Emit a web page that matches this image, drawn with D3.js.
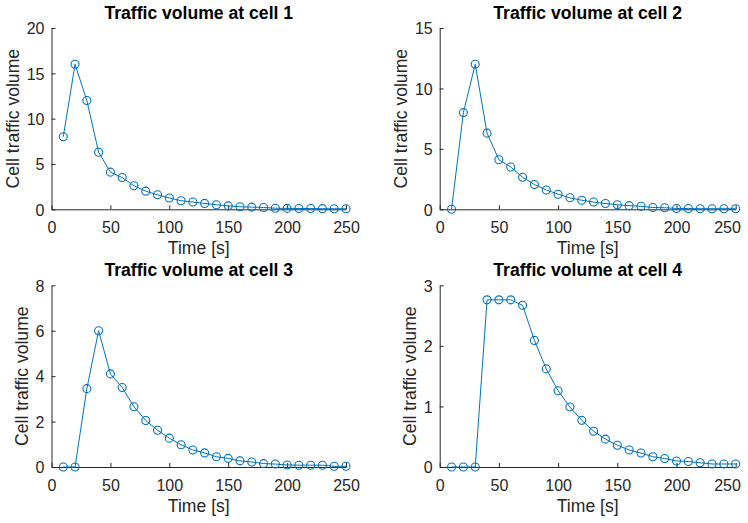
<!DOCTYPE html>
<html>
<head>
<meta charset="utf-8">
<script src="https://cdn.jsdelivr.net/npm/d3@7"></script>
<style>
  html, body { margin: 0; padding: 0; background: #fff; }
  svg { display: block; font-family: "Liberation Sans", Arial, Helvetica, sans-serif; }
</style>
</head>
<body>
<svg id="chart" width="748" height="523"></svg>
<script>
// Sample times (seconds)
const times = [10, 20, 30, 40, 50, 60, 70, 80, 90, 100, 110, 120, 130, 140, 150,
               160, 170, 180, 190, 200, 210, 220, 230, 240, 250];

// Traffic volume per cell
const cell1 = [8, 16, 12, 6.3, 4.1, 3.5, 2.6, 2.0, 1.6, 1.25, 0.95, 0.8, 0.65, 0.5, 0.38,
               0.28, 0.24, 0.2, 0.12, 0.1, 0.09, 0.08, 0.07, 0.06, 0.06];
const cell2 = [0, 8, 12, 6.3, 4.1, 3.5, 2.65, 2.05, 1.6, 1.25, 0.95, 0.75, 0.6, 0.48, 0.38,
               0.3, 0.25, 0.15, 0.13, 0.07, 0.06, 0.05, 0.05, 0.05, 0.05];
const cell3 = [0, 0, 3.45, 6, 4.1, 3.5, 2.65, 2.05, 1.62, 1.27, 0.98, 0.75, 0.62, 0.45, 0.38,
               0.27, 0.22, 0.15, 0.13, 0.09, 0.08, 0.08, 0.08, 0.03, 0.03];
const cell4 = [0, 0, 0, 2.76, 2.76, 2.76, 2.67, 2.09, 1.62, 1.26, 0.99, 0.77, 0.59, 0.46, 0.36,
               0.28, 0.23, 0.17, 0.14, 0.1, 0.09, 0.07, 0.05, 0.05, 0.05];

const titles = ["Traffic volume at cell 1", "Traffic volume at cell 2",
                "Traffic volume at cell 3", "Traffic volume at cell 4"];
const series = [cell1, cell2, cell3, cell4];
const yMax = [20, 15, 8, 3];
const yTicks = [[0, 5, 10, 15, 20], [0, 5, 10, 15], [0, 2, 4, 6, 8], [0, 1, 2, 3]];
const xTicks = [0, 50, 100, 150, 200, 250];
const xLabel = "Time [s]";
const yLabel = "Cell traffic volume";

// Plot boxes for the 2x2 grid: [left, right, top, bottom]
const boxes = [
  [51.5, 346, 28, 209.3],
  [439.7, 735.7, 28, 209.3],
  [51.5, 346, 285.3, 467],
  [439.7, 735.7, 285.3, 467]
];
const yLabelOffset = [33, 33, 24, 23.5];

const axisColor = "#262626";
const lineColor = "#0072BD";
const svg = d3.select("#chart");
const W = 748;

series.forEach((vals, i) => {
  const [l, r, t, b] = boxes[i];
  const x = d3.scaleLinear().domain([0, 250]).range([l, r]);
  const y = d3.scaleLinear().domain([0, yMax[i]]).range([b, t]);
  const g = svg.append("g");

  // x axis (ticks point inward)
  const xa = g.append("g").attr("transform", `translate(0,${b})`)
    .call(d3.axisBottom(x).tickValues(xTicks).tickFormat(d3.format("d"))
      .tickSize(-4).tickPadding(10).tickSizeOuter(0));
  // y axis
  const ya = g.append("g").attr("transform", `translate(${l},0)`)
    .call(d3.axisLeft(y).tickValues(yTicks[i]).tickFormat(d3.format("d"))
      .tickSize(-4).tickPadding(7).tickSizeOuter(0));

  [xa, ya].forEach(a => {
    a.select(".domain").attr("stroke", axisColor).attr("stroke-width", 1);
    a.selectAll(".tick line").attr("stroke", axisColor).attr("stroke-width", 1);
    a.selectAll(".tick text").attr("fill", axisColor).style("font-size", "16px")
      .style("font-family", "'Liberation Sans', Arial, sans-serif");
  });
  xa.selectAll(".tick text").attr("dy", null).attr("y", 24);
  ya.selectAll(".tick text").attr("dy", "0.36em");

  // keep tick labels inside the figure's right edge
  xa.selectAll(".tick text").each(function () {
    const bb = this.getBBox();
    const tr = this.parentNode.transform.baseVal.consolidate().matrix.e;
    const right = tr + bb.x + bb.width;
    if (right > W - 7) d3.select(this).attr("x", (W - 7) - right);
  });

  // title
  g.append("text")
    .attr("x", (l + r) / 2).attr("y", t - 9.5)
    .attr("text-anchor", "middle")
    .style("font-size", "17.6px").style("font-weight", "bold")
    .attr("fill", "#000")
    .text(titles[i]);

  // axis labels
  g.append("text")
    .attr("x", (l + r) / 2).attr("y", b + 44.5)
    .attr("text-anchor", "middle")
    .style("font-size", "17.6px").attr("fill", axisColor)
    .text(xLabel);
  g.append("text")
    .attr("transform", `translate(${l - yLabelOffset[i]},${(t + b) / 2}) rotate(-90)`)
    .attr("text-anchor", "middle")
    .style("font-size", "17.6px").attr("fill", axisColor)
    .text(yLabel);

  const pts = times.map((tm, k) => [tm, vals[k]]);
  g.append("path")
    .datum(pts)
    .attr("fill", "none")
    .attr("stroke", lineColor)
    .attr("stroke-width", 1)
    .attr("d", d3.line().x(d => x(d[0])).y(d => y(d[1])));

  g.selectAll("circle.m").data(pts).enter().append("circle")
    .attr("class", "m")
    .attr("cx", d => x(d[0])).attr("cy", d => y(d[1]))
    .attr("r", 4)
    .attr("fill", "none")
    .attr("stroke", lineColor)
    .attr("stroke-width", 1.1);
});
</script>
</body>
</html>
